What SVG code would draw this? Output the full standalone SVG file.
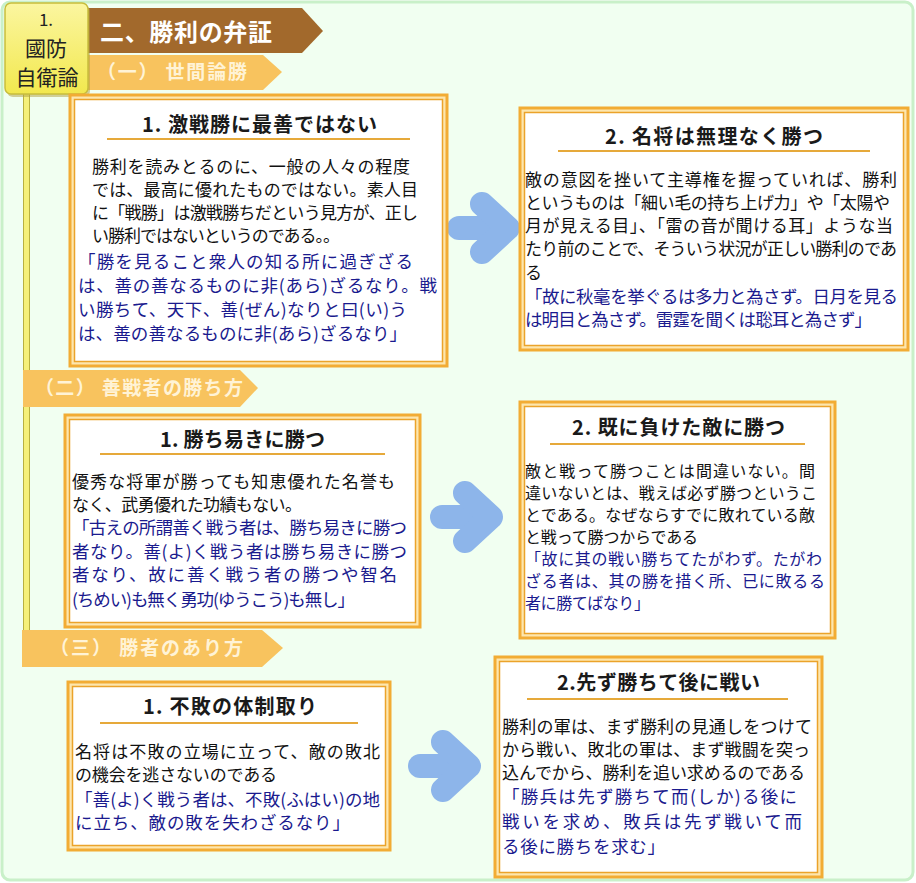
<svg xmlns="http://www.w3.org/2000/svg" width="916" height="883" viewBox="0 0 916 883">
<defs>
<style>
text{font-family:"Noto Sans CJK JP","Noto Sans",sans-serif}
.body{font-size:17px;fill:#111}
.q{font-size:17.5px;fill:#1a1a8e}
.sm{font-size:16px}
.ttl{font-size:20px;font-weight:bold;fill:#1a1a1a}
.ul{stroke:#e6a93a;stroke-width:2}
.bo{fill:#fde6ae;stroke:#f2ac34;stroke-width:3}
.bi{fill:#fff;stroke:#eba32a;stroke-width:1.5}
.arr{stroke:#8db5ea;stroke-width:24;stroke-linecap:round;stroke-linejoin:round;fill:none}
.sub{fill:#f8c35e}
.subt{font-size:19px;font-weight:bold;fill:#fff3d6}
</style>
<linearGradient id="yg" x1="0" y1="0" x2="0" y2="1">
<stop offset="0" stop-color="#fbf6a0"/>
<stop offset="1" stop-color="#f2e84e"/>
</linearGradient>
</defs>

<rect x="2" y="2" width="911" height="878" rx="8" fill="#f1fff1" stroke="#c9f0c9" stroke-width="3"/>

<g id="header">
<polygon points="80,8 302,8 323,31 302,53 80,53" fill="#a2692c"/>
<text x="100" y="41" font-size="24" font-weight="bold" fill="#fff" textLength="172">二、勝利の弁証</text>
<polygon class="sub" points="80,55 263,55 282,72 263,90 80,90"/>
<text class="subt" x="97" y="79" textLength="150">（一） 世間論勝</text>
<rect x="23.5" y="92" width="6" height="540" fill="#f5f07a" stroke="#b8b040" stroke-width="1"/>
<rect x="7" y="5" width="83" height="92" rx="6" fill="#b0a040" opacity="0.5"/>
<rect x="5" y="3" width="83" height="91" rx="6" fill="url(#yg)" stroke="#c8bd3c" stroke-width="1.5"/>
<text x="46" y="26" font-size="17" fill="#222" text-anchor="middle">1.</text>
<text x="46" y="56" font-size="21" fill="#222" text-anchor="middle">國防</text>
<text x="47" y="85" font-size="21" fill="#222" text-anchor="middle">自衛論</text>
</g>

<g id="sec2">
<polygon class="sub" points="23,370 240,370 258,388 240,407 23,407"/>
<text class="subt" x="35" y="395" textLength="208">（二） 善戦者の勝ち方</text>
</g>
<g id="sec3">
<polygon class="sub" points="22,630 262,630 283,648 262,667 22,667"/>
<text class="subt" x="50" y="655" textLength="193">（三） 勝者のあり方</text>
</g>

<g id="connectors">
<line class="arr" x1="459" y1="228" x2="507" y2="228"/>
<polyline class="arr" points="482,204 508,228 482,252"/>
<line class="arr" x1="442" y1="517" x2="490" y2="517"/>
<polyline class="arr" points="465,493 491,517 465,541"/>
<line class="arr" x1="420" y1="766" x2="468" y2="766"/>
<polyline class="arr" points="443,742 469,766 443,790"/>
</g>

<g id="box1">
<rect class="bo" x="70" y="95" width="377" height="271"/>
<rect class="bi" x="74.5" y="99.5" width="368" height="262"/>
<text class="ttl" x="142" y="132" textLength="235">1. 激戦勝に最善ではない</text>
<line class="ul" x1="107" y1="139" x2="410" y2="139"/>
<text class="body" x="92" y="173" textLength="318">勝利を読みとるのに、一般の人々の程度</text>
<text class="body" x="92" y="196" textLength="326">では、最高に優れたものではない。素人目</text>
<text class="body" x="92" y="219" textLength="326">に「戦勝」は激戦勝ちだという見方が、正し</text>
<text class="body" x="92" y="242" textLength="248">い勝利ではないというのである。。</text>
<text class="q" x="78" y="268" textLength="335">「勝を見ること衆人の知る所に過ぎざる</text>
<text class="q" x="78" y="292" textLength="359">は、善の善なるものに非(あら)ざるなり。戦</text>
<text class="q" x="78" y="316" textLength="329">い勝ちて、天下、善(ぜん)なりと曰(い)う</text>
<text class="q" x="78" y="340" textLength="329">は、善の善なるものに非(あら)ざるなり」</text>
</g>

<g id="box2">
<rect class="bo" x="520" y="108" width="388" height="242"/>
<rect class="bi" x="524.5" y="112.5" width="379" height="233"/>
<text class="ttl" x="605" y="144" textLength="218">2. 名将は無理なく勝つ</text>
<line class="ul" x1="558" y1="151" x2="870" y2="151"/>
<text class="body" x="525" y="186" textLength="372">敵の意図を挫いて主導権を握っていれば、勝利</text>
<text class="body" x="525" y="209" textLength="365">というものは「細い毛の持ち上げ力」や「太陽や</text>
<text class="body" x="525" y="232" textLength="368">月が見える目」、「雷の音が聞ける耳」ような当</text>
<text class="body" x="525" y="255" textLength="372">たり前のことで、そういう状況が正しい勝利のであ</text>
<text class="body" x="525" y="279">る</text>
<text class="q" x="525" y="303" textLength="373">「故に秋毫を挙ぐるは多力と為さず。日月を見る</text>
<text class="q" x="525" y="326" textLength="347">は明目と為さず。雷霆を聞くは聡耳と為さず」</text>
</g>

<g id="box3">
<rect class="bo" x="65" y="415" width="355" height="212"/>
<rect class="bi" x="69.5" y="419.5" width="346" height="203"/>
<text class="ttl" x="160" y="447" textLength="165">1. 勝ち易きに勝つ</text>
<line class="ul" x1="100" y1="454" x2="385" y2="454"/>
<text class="body" x="72" y="488" textLength="323">優秀な将軍が勝っても知恵優れた名誉も</text>
<text class="body" x="72" y="511" textLength="230">なく、武勇優れた功績もない。</text>
<text class="q" x="72" y="534" textLength="335">「古えの所謂善く戦う者は、勝ち易きに勝つ</text>
<text class="q" x="72" y="558" textLength="335">者なり。善(よ)く戦う者は勝ち易きに勝つ</text>
<text class="q" x="72" y="581" textLength="325">者なり、故に善く戦う者の勝つや智名</text>
<text class="q" x="72" y="606" textLength="283">(ちめい)も無く勇功(ゆうこう)も無し」</text>
</g>

<g id="box4">
<rect class="bo" x="520" y="402" width="315" height="236"/>
<rect class="bi" x="524.5" y="406.5" width="306" height="227"/>
<text class="ttl" x="572" y="435" textLength="213">2. 既に負けた敵に勝つ</text>
<line class="ul" x1="550" y1="444" x2="805" y2="444"/>
<text class="body sm" x="525" y="477" textLength="290">敵と戦って勝つことは間違いない。間</text>
<text class="body sm" x="525" y="499" textLength="292">違いないとは、戦えば必ず勝つというこ</text>
<text class="body sm" x="525" y="521" textLength="290">とである。なぜならすでに敗れている敵</text>
<text class="body sm" x="525" y="543" textLength="173">と戦って勝つからである</text>
<text class="q sm" x="525" y="565" textLength="297">「故に其の戦い勝ちてたがわず。たがわ</text>
<text class="q sm" x="525" y="587" textLength="300">ざる者は、其の勝を措く所、已に敗るる</text>
<text class="q sm" x="525" y="609" textLength="125">者に勝てばなり」</text>
</g>

<g id="box5">
<rect class="bo" x="68" y="682" width="322" height="168"/>
<rect class="bi" x="72.5" y="686.5" width="313" height="159"/>
<text class="ttl" x="143" y="714" textLength="174">1. 不敗の体制取り</text>
<line class="ul" x1="100" y1="723" x2="358" y2="723"/>
<text class="body" x="75" y="758" textLength="305">名将は不敗の立場に立って、敵の敗北</text>
<text class="body" x="75" y="781" textLength="202">の機会を逃さないのである</text>
<text class="q" x="75" y="806" textLength="305">「善(よ)く戦う者は、不敗(ふはい)の地</text>
<text class="q" x="75" y="829" textLength="275">に立ち、敵の敗を失わざるなり」</text>
</g>

<g id="box6">
<rect class="bo" x="495" y="657" width="327" height="220"/>
<rect class="bi" x="499.5" y="661.5" width="318" height="211"/>
<text class="ttl" x="557" y="690" textLength="203">2.先ず勝ちて後に戦い</text>
<line class="ul" x1="527" y1="699" x2="788" y2="699"/>
<text class="body" x="502" y="733" textLength="310">勝利の軍は、まず勝利の見通しをつけて</text>
<text class="body" x="502" y="756" textLength="308">から戦い、敗北の軍は、まず戦闘を突っ</text>
<text class="body" x="502" y="779" textLength="303">込んでから、勝利を追い求めるのである</text>
<text class="q" x="502" y="803" textLength="295">「勝兵は先ず勝ちて而(しか)る後に</text>
<text class="q" x="502" y="828" textLength="300">戦いを求め、敗兵は先ず戦いて而</text>
<text class="q" x="502" y="853" textLength="163">る後に勝ちを求む」</text>
</g>
</svg>
